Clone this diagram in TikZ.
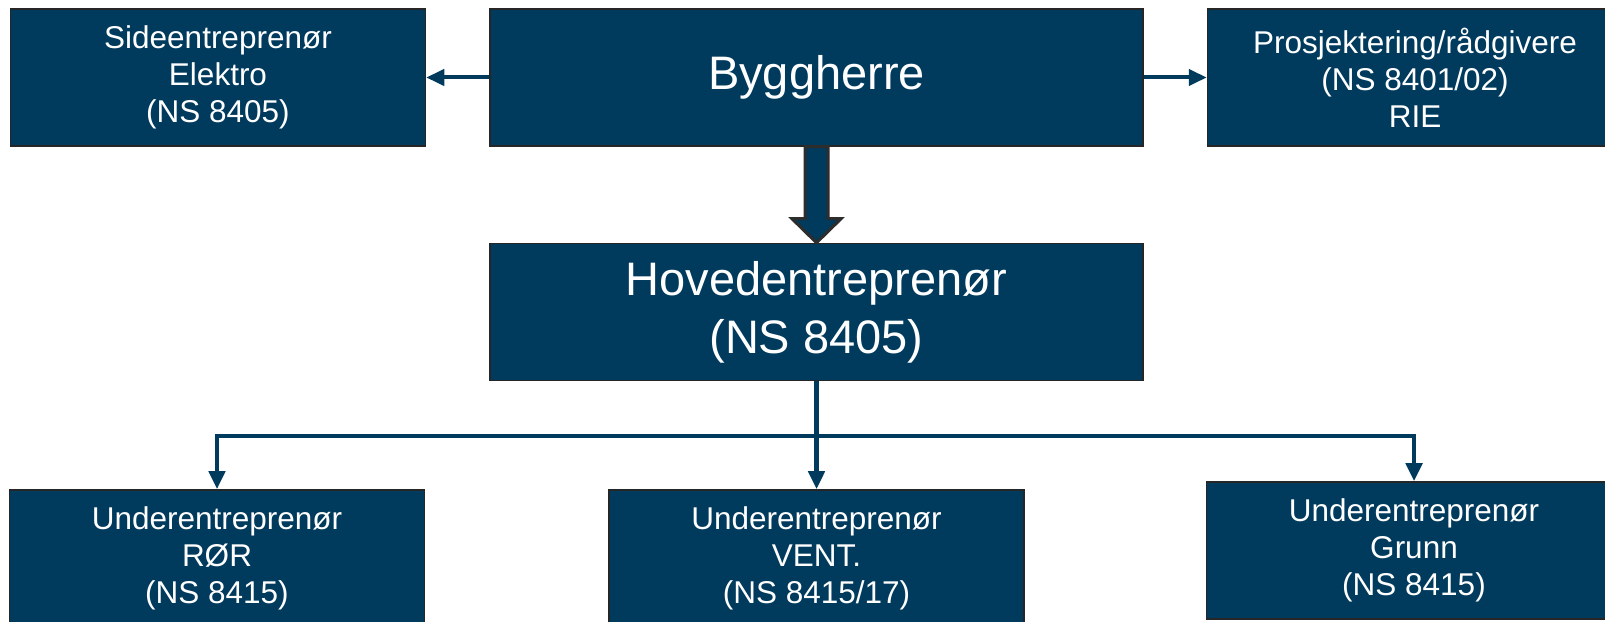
\documentclass[tikz,border=0pt]{standalone}
\usepackage{fontspec}
\setmainfont{Liberation Sans}
\usepackage{tikz}
\usetikzlibrary{arrows.meta,positioning,calc}
\definecolor{navy}{RGB}{0,58,93}
\definecolor{arrowgray}{RGB}{45,45,45}

\begin{document}
\begin{tikzpicture}[x=1pt,y=1pt,->,>={Triangle[length=18pt,width=16pt]},
	line width=4.5pt,color=navy,
	box node/.style={rectangle,inner sep=0pt,fill=navy,draw=black!85,line width=1.5pt,
		text=white,align=center,font=\fontsize{31.5}{37}\selectfont,
		minimum width = 415pt, minimum height = 137pt},
	big node/.style={box node,font=\fontsize{47}{58}\selectfont,minimum width = 653pt},
	big arrow/.style={-,fill=navy,draw=arrowgray,line width=3pt,line join=miter}]

	\useasboundingbox (0,0) rectangle (1605,621);

    \node[big node] (B) at (816.5,543.5) {Byggherre};
    \node[box node] (E) [left = 63pt of B] {Sideentreprenør\\Elektro\\(NS 8405)};
    \node[box node] (P) [right = 63pt of B] {Prosjektering/rådgivere\\(NS 8401/02)\\RIE};
    \node[big node] (H) [below = 96pt of B] {Hovedentreprenør\\(NS 8405)};
    \node[box node] (V) [below = 108pt of H] {Underentreprenør\\VENT.\\(NS 8415/17)};
    \node[box node] (R) [left = 183pt of V] {Underentreprenør\\RØR\\(NS 8415)};
    \node[box node] (G) [right = 181pt of V, yshift=8pt] {Underentreprenør\\Grunn\\(NS 8415)};

	\path[line width=4pt]
	(B) edge node {} (E)
	(B) edge node {} (P);

	% thick arrow down to the main contractor
	\draw[big arrow] ($(B.south)+(-11.5,0)$) -- ($(H.north)+(-11.5,24)$) -- ++(-13,0)
		-- (H.north) -- ($(H.north)+(24.5,24)$) -- ++(-13,0) -- ($(B.south)+(11.5,0)$) -- cycle;

	\coordinate (bus) at ($(H.south)+(0,-55)$);
	\draw (H.south) -- (bus) -| (R.north);
	\draw (bus) -| (G.north);
	\draw (bus) -- (V.north);

	\end{tikzpicture}
\end{document}
